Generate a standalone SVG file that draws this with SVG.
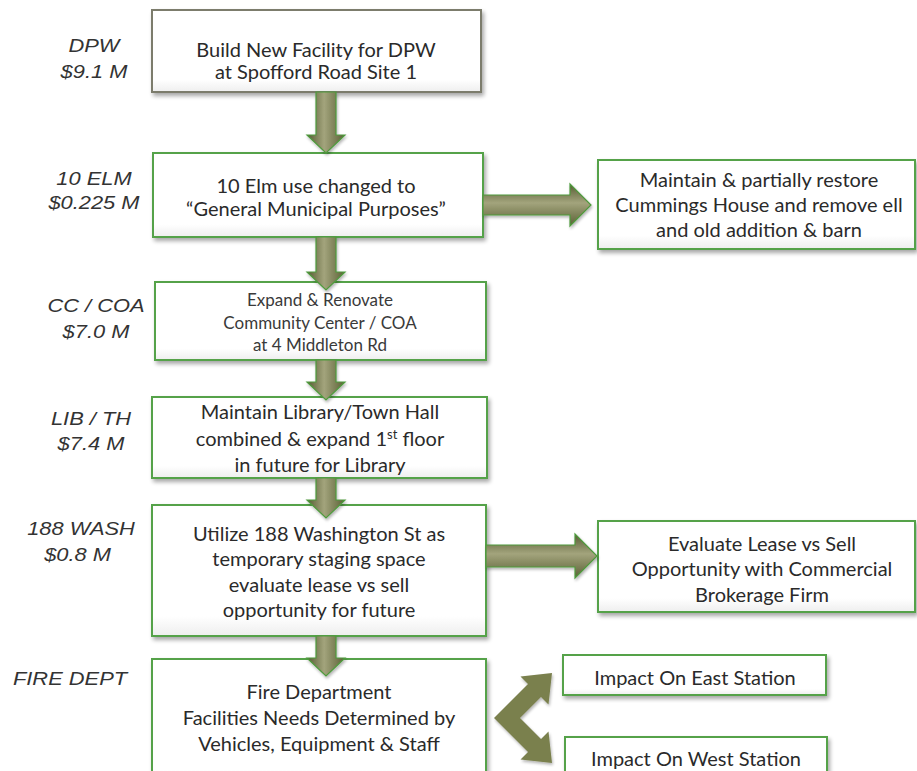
<svg xmlns="http://www.w3.org/2000/svg" width="917" height="771" viewBox="0 0 917 771">
<defs>
<style>
.box{fill:url(#boxg);stroke:#55a24a;stroke-width:2;filter:url(#sh)}
.box1{fill:url(#boxg);stroke:#7c7c6c;stroke-width:2;filter:url(#sh)}
.t{font-family:Lato,"Liberation Sans",sans-serif;font-size:20px;fill:#2a2a2a;text-anchor:middle}
.ts{font-size:17px;fill:#3a3a3a}
.lab{font-family:"Liberation Sans",Arial,sans-serif;font-style:italic;font-size:19px;fill:#333;text-anchor:middle}
.va{fill:url(#vg);stroke:#4e9a3c;stroke-width:1.2;filter:url(#sh2)}
.ha{fill:url(#hg);stroke:#4e9a3c;stroke-width:1.2;filter:url(#sh2)}
</style>
<linearGradient id="boxg" x1="0" y1="0" x2="0" y2="1">
<stop offset="0" stop-color="#ffffff"/><stop offset="0.85" stop-color="#ffffff"/><stop offset="1" stop-color="#eeeeee"/>
</linearGradient>
<linearGradient id="vg" x1="0" y1="0" x2="1" y2="0">
<stop offset="0" stop-color="#555b33"/><stop offset="0.45" stop-color="#a3a47c"/><stop offset="1" stop-color="#5a6036"/>
</linearGradient>
<linearGradient id="hg" x1="0" y1="0" x2="0" y2="1">
<stop offset="0" stop-color="#555b33"/><stop offset="0.45" stop-color="#a3a47c"/><stop offset="1" stop-color="#5a6036"/>
</linearGradient>
<filter id="sh" x="-5%" y="-10%" width="115%" height="130%">
<feGaussianBlur in="SourceAlpha" stdDeviation="2"/><feOffset dx="2" dy="3" result="b"/>
<feComponentTransfer><feFuncA type="linear" slope="0.35"/></feComponentTransfer>
<feMerge><feMergeNode/><feMergeNode in="SourceGraphic"/></feMerge>
</filter>
<filter id="sh2" x="-20%" y="-20%" width="150%" height="150%">
<feGaussianBlur in="SourceAlpha" stdDeviation="1.5"/><feOffset dx="1" dy="2" result="b"/>
<feComponentTransfer><feFuncA type="linear" slope="0.3"/></feComponentTransfer>
<feMerge><feMergeNode/><feMergeNode in="SourceGraphic"/></feMerge>
</filter>
</defs>
<rect width="917" height="771" fill="#ffffff"/>

<g id="labels">
<g transform="translate(94,0) scale(1.15,1)"><text class="lab" x="0" y="52">DPW</text><text class="lab" x="0" y="78">$9.1 M</text></g>
<g transform="translate(94,0) scale(1.15,1)"><text class="lab" x="0" y="185">10 ELM</text><text class="lab" x="0" y="209">$0.225 M</text></g>
<g transform="translate(96,0) scale(1.15,1)"><text class="lab" x="0" y="312">CC / COA</text><text class="lab" x="0" y="338">$7.0 M</text></g>
<g transform="translate(91,0) scale(1.15,1)"><text class="lab" x="0" y="425">LIB / TH</text><text class="lab" x="0" y="450">$7.4 M</text></g>
<g transform="translate(81,0) scale(1.15,1)"><text class="lab" x="0" y="535">188 WASH</text><text class="lab" x="-3" y="561">$0.8 M</text></g>
<g transform="translate(70,0) scale(1.15,1)"><text class="lab" x="0" y="685">FIRE DEPT</text></g>
</g>

<g id="node-dpw">
<rect class="box1" x="152" y="10" width="329" height="82"/>
<text class="t" x="316" y="57">Build New Facility for DPW</text>
<text class="t" x="316" y="79">at Spofford Road Site 1</text>
</g>
<g id="node-elm">
<rect class="box" x="153" y="153" width="330" height="84"/>
<text class="t" x="316" y="193">10 Elm use changed to</text>
<text class="t" x="316" y="216">“General Municipal Purposes”</text>
</g>
<g id="node-cummings">
<rect class="box" x="598" y="160" width="317" height="89"/>
<text class="t" x="759" y="187">Maintain &amp; partially restore</text>
<text class="t" x="759" y="212">Cummings House and remove ell</text>
<text class="t" x="759" y="237">and old addition &amp; barn</text>
</g>
<g id="node-cc">
<rect class="box" x="155" y="282" width="331" height="78"/>
<text class="t ts" x="320" y="306">Expand &amp; Renovate</text>
<text class="t ts" x="320" y="329">Community Center / COA</text>
<text class="t ts" x="320" y="351">at 4 Middleton Rd</text>
</g>
<g id="node-lib">
<rect class="box" x="152" y="397" width="335" height="81"/>
<text class="t" x="320" y="419">Maintain Library/Town Hall</text>
<text class="t" x="320" y="446">combined &amp; expand 1<tspan font-size="13" dy="-7">st</tspan><tspan dy="7"> floor</tspan></text>
<text class="t" x="320" y="472">in future for Library</text>
</g>
<g id="node-wash">
<rect class="box" x="152" y="505" width="334" height="131"/>
<text class="t" x="319" y="541">Utilize 188 Washington St as</text>
<text class="t" x="319" y="566">temporary staging space</text>
<text class="t" x="319" y="592">evaluate lease vs sell</text>
<text class="t" x="319" y="617">opportunity for future</text>
</g>
<g id="node-lease">
<rect class="box" x="598" y="521" width="317" height="91"/>
<text class="t" x="762" y="551">Evaluate Lease vs Sell</text>
<text class="t" x="762" y="576">Opportunity with Commercial</text>
<text class="t" x="762" y="602">Brokerage Firm</text>
</g>
<g id="node-fire">
<rect class="box" x="152" y="659" width="334" height="130"/>
<text class="t" x="319" y="699">Fire Department</text>
<text class="t" x="319" y="725">Facilities Needs Determined by</text>
<text class="t" x="319" y="751">Vehicles, Equipment &amp; Staff</text>
</g>
<g id="node-east">
<rect class="box" x="563" y="655" width="263" height="40"/>
<text class="t" x="695" y="685">Impact On East Station</text>
</g>
<g id="node-west">
<rect class="box" x="565" y="737" width="262" height="50"/>
<text class="t" x="696" y="766">Impact On West Station</text>
</g>

<g id="connectors">
<path class="va" d="M316 92 L336 92 L336 135 L345 135 L326 153 L307 135 L316 135 Z"/>
<path class="va" d="M316 237 L336 237 L336 272 L345 272 L326 290 L307 272 L316 272 Z"/>
<path class="va" d="M316 360 L336 360 L336 382 L345 382 L326 400 L307 382 L316 382 Z"/>
<path class="va" d="M316 478 L336 478 L336 500 L345 500 L326 518 L307 500 L316 500 Z"/>
<path class="va" d="M316 636 L336 636 L336 658 L345 658 L326 676 L307 658 L316 658 Z"/>
<path class="ha" d="M483 195 L570 195 L570 184 L591 205 L570 226 L570 215 L483 215 Z"/>
<path class="ha" d="M486 545 L575 545 L575 534 L597 556 L575 578 L575 567 L486 567 Z"/>
<path fill="#7a804e" filter="url(#sh2)" d="M494 718 L528 684 L520.5 676.5 L552 673 L548.5 704.5 L541 697 L520 718 L541 739 L548.5 731.5 L552 763 L520.5 759.5 L528 752 Z"/>
</g>
</svg>
